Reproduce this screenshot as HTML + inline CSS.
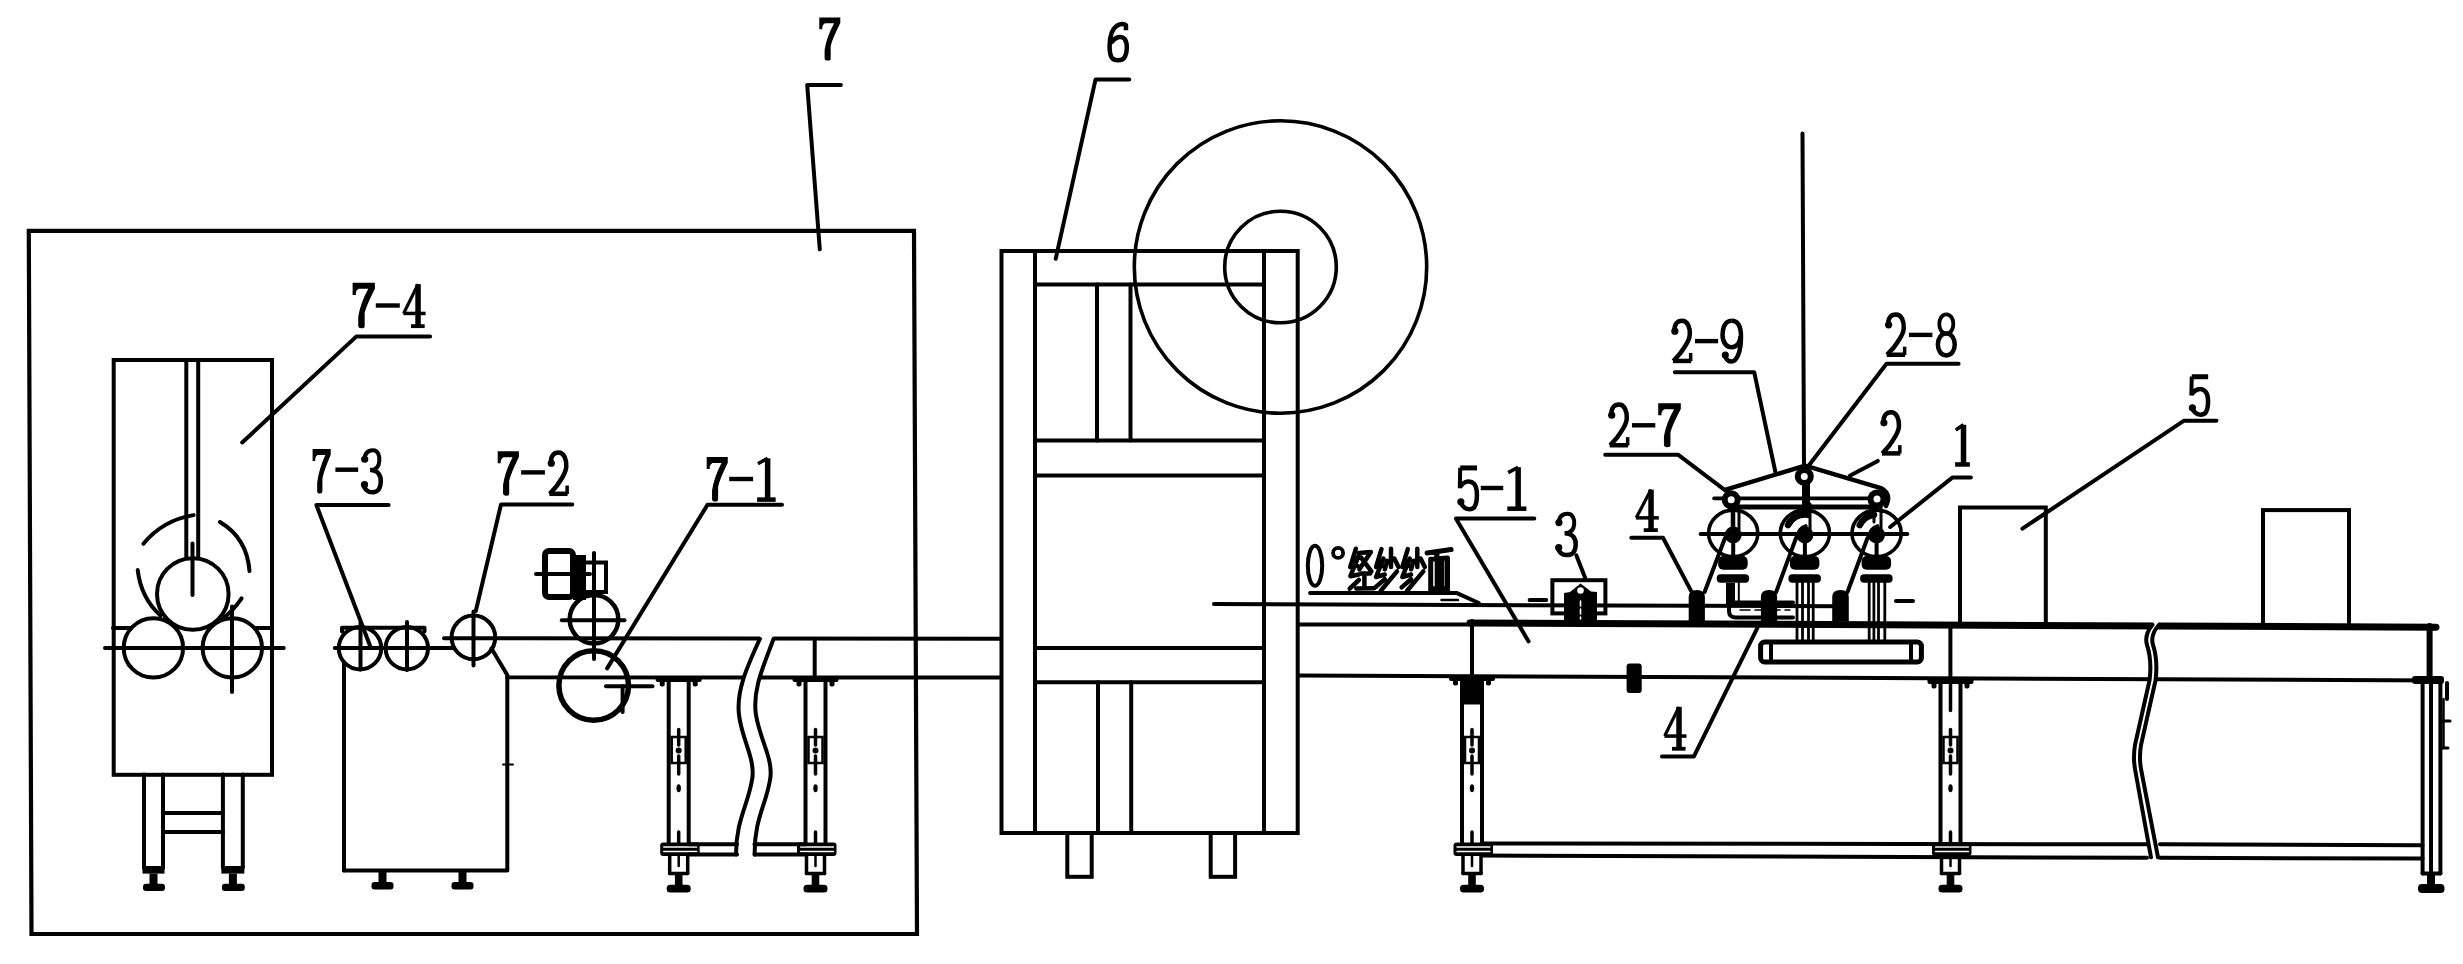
<!DOCTYPE html>
<html><head><meta charset="utf-8"><style>
html,body{margin:0;padding:0;background:#fff;overflow:hidden}
svg{display:block}
text{font-family:"Liberation Serif",serif}
</style></head><body>
<svg width="2463" height="964" viewBox="0 0 2463 964" stroke="#000" fill="none" stroke-linecap="round" stroke-linejoin="round">
<rect x="0" y="0" width="2463" height="964" fill="#fff" stroke="none"/>
<polygon points="28.8,230.9 914,230.9 917,934 31.5,934" stroke-width="4.2" fill="none" stroke-linejoin="miter"/>
<path transform="translate(819.30,17.50) scale(21.000,43.100)" d="M0,0 L1,0 L1,0.13 Q0.62,0.5 0.542,0.66 L0.542,0.955 Q0.542,1.0 0.4,1.0 Q0.253,1.0 0.253,0.945 L0.253,0.75 Q0.35,0.45 0.704,0.133 L0.27,0.133 Q0.17,0.16 0.144,0.22 L0.144,0.27 L0.0,0.27 Z" fill="#000" stroke="none"/>
<polyline points="840.9,84.9 807.2,84.9 819.8,249.3" stroke-width="4" fill="none"/>
<rect x="113.7" y="360.0" width="158.3" height="414.8" rx="0" stroke-width="4" fill="none" stroke-linejoin="miter"/>
<line x1="186.3" y1="360.0" x2="186.3" y2="557.0" stroke-width="4"/>
<line x1="198.2" y1="360.0" x2="198.2" y2="557.0" stroke-width="4"/>
<circle cx="192.8" cy="594.0" r="35.8" stroke-width="4" fill="none"/>
<line x1="192.5" y1="543.6" x2="192.5" y2="595.0" stroke-width="4"/>
<line x1="105.0" y1="648.0" x2="283.8" y2="648.0" stroke-width="4"/>
<line x1="113.0" y1="628.0" x2="131.0" y2="628.0" stroke-width="4"/>
<line x1="255.0" y1="628.0" x2="271.5" y2="628.0" stroke-width="4"/>
<circle cx="153.4" cy="647.9" r="29.7" stroke-width="4" fill="none"/>
<circle cx="232.3" cy="647.9" r="29.7" stroke-width="4" fill="none"/>
<line x1="232.0" y1="606.4" x2="232.0" y2="692.0" stroke-width="4"/>
<path d="M143.4,543.7 Q163,520 193.6,515.1" stroke-width="4" fill="none"/>
<path d="M219.9,522 Q247,538 249.5,571" stroke-width="4" fill="none"/>
<path d="M137.7,570 Q141,598 160.5,615.6" stroke-width="4" fill="none"/>
<path d="M241.6,598.4 Q233,611 223.3,617.9" stroke-width="4" fill="none"/>
<line x1="144.0" y1="774.5" x2="144.0" y2="868.0" stroke-width="4"/>
<line x1="163.0" y1="774.5" x2="163.0" y2="868.0" stroke-width="4"/>
<rect x="142.5" y="866.0" width="22.0" height="7.6" rx="0" stroke="none" fill="#000"/>
<rect x="149.5" y="873.6" width="8.0" height="10.4" rx="0" stroke="none" fill="#000"/>
<rect x="143.0" y="883.7" width="22.0" height="7.3" rx="3" stroke="none" fill="#000"/>
<line x1="222.9" y1="774.5" x2="222.9" y2="868.0" stroke-width="4"/>
<line x1="242.8" y1="774.5" x2="242.8" y2="868.0" stroke-width="4"/>
<rect x="221.4" y="866.0" width="22.9" height="7.6" rx="0" stroke="none" fill="#000"/>
<rect x="228.9" y="873.6" width="8.0" height="10.4" rx="0" stroke="none" fill="#000"/>
<rect x="221.9" y="883.7" width="22.9" height="7.3" rx="3" stroke="none" fill="#000"/>
<line x1="163.0" y1="813.0" x2="222.9" y2="813.0" stroke-width="4"/>
<line x1="163.0" y1="832.0" x2="222.9" y2="832.0" stroke-width="4"/>
<path transform="translate(352.60,282.80) scale(22.270,45.400)" d="M0,0 L1,0 L1,0.13 Q0.62,0.5 0.542,0.66 L0.542,0.955 Q0.542,1.0 0.4,1.0 Q0.253,1.0 0.253,0.945 L0.253,0.75 Q0.35,0.45 0.704,0.133 L0.27,0.133 Q0.17,0.16 0.144,0.22 L0.144,0.27 L0.0,0.27 Z" fill="#000" stroke="none"/>
<g transform="translate(402.43,282.80) scale(23.667,45.400)"><path d="M0.66,0.03 L0.66,0.95" stroke-width="5.5" vector-effect="non-scaling-stroke" stroke-linecap="butt"/><path d="M0.66,0.03 L0.05,0.675" stroke-width="3.2" vector-effect="non-scaling-stroke" stroke-linecap="butt"/><path d="M0.04,0.675 L0.98,0.675" stroke-width="3.5" vector-effect="non-scaling-stroke" stroke-linecap="butt"/><path d="M0.36,0.955 L0.94,0.955" stroke-width="3.8" vector-effect="non-scaling-stroke" stroke-linecap="butt"/></g>
<rect x="375.8" y="303.3" width="24.0" height="4.4" rx="0" stroke="none" fill="#000"/>
<polyline points="430.1,336.6 356.2,336.6 242.2,442.5" stroke-width="4" fill="none"/>
<circle cx="360.0" cy="648.2" r="21.2" stroke-width="4" fill="none"/>
<circle cx="406.8" cy="648.2" r="21.2" stroke-width="4" fill="none"/>
<line x1="360.5" y1="622.4" x2="360.5" y2="669.6" stroke-width="4"/>
<line x1="407.0" y1="622.0" x2="407.0" y2="670.0" stroke-width="4"/>
<line x1="334.8" y1="648.0" x2="453.5" y2="648.0" stroke-width="4"/>
<polyline points="342.0,631.5 342.0,627.8 424.5,627.8 424.5,631.5" stroke-width="4" fill="none"/>
<line x1="344.0" y1="662.8" x2="344.0" y2="870.5" stroke-width="4"/>
<polyline points="344.0,870.5 507.3,870.5 507.3,677.0" stroke-width="4" fill="none"/>
<circle cx="473.4" cy="637.4" r="21.8" stroke-width="4" fill="none"/>
<line x1="444.0" y1="638.2" x2="1001.0" y2="638.7" stroke-width="4"/>
<line x1="473.5" y1="611.6" x2="473.5" y2="665.5" stroke-width="4"/>
<polyline points="491.5,648.5 507.3,675.0 507.3,677.3 1001.0,677.6" stroke-width="4" fill="none"/>
<line x1="503.0" y1="764.5" x2="513.0" y2="764.5" stroke-width="2"/>
<rect x="378.5" y="870.0" width="8.0" height="13.0" rx="0" stroke="none" fill="#000"/>
<rect x="371.5" y="882.0" width="22.0" height="7.5" rx="3" stroke="none" fill="#000"/>
<rect x="458.5" y="870.0" width="8.0" height="13.0" rx="0" stroke="none" fill="#000"/>
<rect x="451.5" y="882.0" width="22.0" height="7.5" rx="3" stroke="none" fill="#000"/>
<path transform="translate(312.60,449.00) scale(18.096,44.600)" d="M0,0 L1,0 L1,0.13 Q0.62,0.5 0.542,0.66 L0.542,0.955 Q0.542,1.0 0.4,1.0 Q0.253,1.0 0.253,0.945 L0.253,0.75 Q0.35,0.45 0.704,0.133 L0.27,0.133 Q0.17,0.16 0.144,0.22 L0.144,0.27 L0.0,0.27 Z" fill="#000" stroke="none"/>
<g transform="translate(361.60,449.00) scale(20.602,44.600)"><path d="M0.14,0.25 C0.15,0.05 0.4,0.03 0.55,0.03 C0.8,0.03 0.88,0.15 0.86,0.27 C0.84,0.4 0.7,0.47 0.42,0.47" stroke-width="4" vector-effect="non-scaling-stroke" stroke-linecap="butt"/><path d="M0.42,0.47 C0.8,0.47 0.95,0.6 0.93,0.74 C0.9,0.95 0.7,0.97 0.5,0.97 C0.3,0.97 0.12,0.9 0.12,0.8" stroke-width="4.5" vector-effect="non-scaling-stroke" stroke-linecap="butt"/><ellipse cx="0.15" cy="0.23" rx="0.1747" ry="0.0807" fill="#000" stroke="none"/><ellipse cx="0.14" cy="0.8" rx="0.1747" ry="0.0807" fill="#000" stroke="none"/></g>
<rect x="335.4" y="467.5" width="22.8" height="4.4" rx="0" stroke="none" fill="#000"/>
<polyline points="388.6,505.0 316.4,505.0 370.8,647.8" stroke-width="4" fill="none"/>
<path transform="translate(497.70,451.20) scale(21.194,44.600)" d="M0,0 L1,0 L1,0.13 Q0.62,0.5 0.542,0.66 L0.542,0.955 Q0.542,1.0 0.4,1.0 Q0.253,1.0 0.253,0.945 L0.253,0.75 Q0.35,0.45 0.704,0.133 L0.27,0.133 Q0.17,0.16 0.144,0.22 L0.144,0.27 L0.0,0.27 Z" fill="#000" stroke="none"/>
<g transform="translate(547.61,451.20) scale(21.695,44.600)"><path d="M0.16,0.28 C0.12,0.1 0.3,0.03 0.5,0.03 C0.75,0.03 0.88,0.18 0.86,0.35 C0.84,0.52 0.62,0.62 0.42,0.78 L0.1,0.955" stroke-width="4.5" vector-effect="non-scaling-stroke" stroke-linecap="butt"/><path d="M0.08,0.955 L0.92,0.955" stroke-width="4.5" vector-effect="non-scaling-stroke" stroke-linecap="butt"/><path d="M0.9,0.96 L0.9,0.77" stroke-width="3.5" vector-effect="non-scaling-stroke" stroke-linecap="butt"/><ellipse cx="0.17" cy="0.27" rx="0.1659" ry="0.0807" fill="#000" stroke="none"/></g>
<rect x="521.1" y="470.2" width="23.8" height="4.4" rx="0" stroke="none" fill="#000"/>
<polyline points="572.3,504.5 501.0,504.5 475.8,611.0" stroke-width="4" fill="none"/>
<circle cx="594.0" cy="619.3" r="24.3" stroke-width="4.5" fill="none"/>
<line x1="561.8" y1="620.2" x2="624.5" y2="620.2" stroke-width="4"/>
<line x1="594.0" y1="553.0" x2="594.0" y2="658.9" stroke-width="4"/>
<circle cx="593.7" cy="685.5" r="34.8" stroke-width="5.5" fill="none"/>
<line x1="606.0" y1="686.3" x2="652.5" y2="686.3" stroke-width="4"/>
<line x1="622.6" y1="686.3" x2="622.6" y2="712.0" stroke-width="4"/>
<rect x="545.0" y="551.0" width="28.0" height="46.0" rx="4" stroke-width="6" fill="none" stroke-linejoin="round"/>
<line x1="536.0" y1="574.0" x2="590.0" y2="574.0" stroke-width="4"/>
<rect x="583.0" y="562.5" width="23.0" height="29.5" rx="0" stroke-width="4" fill="none" stroke-linejoin="miter"/>
<rect x="573.0" y="555.0" width="13.0" height="45.0" rx="0" stroke="none" fill="#000"/>
<path transform="translate(706.70,457.00) scale(21.060,44.600)" d="M0,0 L1,0 L1,0.13 Q0.62,0.5 0.542,0.66 L0.542,0.955 Q0.542,1.0 0.4,1.0 Q0.253,1.0 0.253,0.945 L0.253,0.75 Q0.35,0.45 0.704,0.133 L0.27,0.133 Q0.17,0.16 0.144,0.22 L0.144,0.27 L0.0,0.27 Z" fill="#000" stroke="none"/>
<g transform="translate(755.84,457.00) scale(21.060,44.600)"><path d="M0.1,0.15 L0.56,0.03" stroke-width="3.5" vector-effect="non-scaling-stroke" stroke-linecap="butt"/><path d="M0.56,0.03 L0.56,0.95" stroke-width="5.5" vector-effect="non-scaling-stroke" stroke-linecap="butt"/><path d="M0.06,0.955 L0.94,0.955" stroke-width="4.5" vector-effect="non-scaling-stroke" stroke-linecap="butt"/></g>
<rect x="729.2" y="476.8" width="23.9" height="4.4" rx="0" stroke="none" fill="#000"/>
<polyline points="782.0,504.8 707.5,504.8 607.1,668.4" stroke-width="4" fill="none"/>
<line x1="668.7" y1="678.5" x2="668.7" y2="842.0" stroke-width="4"/>
<line x1="688.7" y1="678.5" x2="688.7" y2="842.0" stroke-width="4"/>
<rect x="655.7" y="676.0" width="46.0" height="6.0" rx="2" stroke="none" fill="#000"/>
<rect x="659.7" y="678.5" width="5.0" height="8.0" rx="2" stroke="none" fill="#000"/>
<rect x="692.7" y="678.5" width="5.0" height="8.0" rx="2" stroke="none" fill="#000"/>
<rect x="671.7" y="737.0" width="14.0" height="26.0" rx="0" stroke-width="2.5" fill="none" stroke-linejoin="miter"/>
<line x1="678.7" y1="729.5" x2="678.7" y2="745.0" stroke-width="3.5"/>
<line x1="678.7" y1="756.0" x2="678.7" y2="774.0" stroke-width="3.5"/>
<circle cx="678.7" cy="750.4" r="3.0" stroke-width="0" fill="#000"/>
<ellipse cx="678.7" cy="788.3" rx="2.2" ry="4.0" stroke-width="0" fill="#000"/>
<line x1="678.7" y1="832.0" x2="678.7" y2="843.0" stroke-width="3.5"/>
<rect x="660.2" y="842.5" width="39.5" height="13.5" rx="3" stroke="none" fill="#000"/>
<line x1="663.7" y1="847" x2="696.7" y2="847" stroke="#fff" stroke-width="1.3"/>
<line x1="663.7" y1="851.5" x2="696.7" y2="851.5" stroke="#fff" stroke-width="1.3"/>
<line x1="669.7" y1="856.0" x2="669.7" y2="873.5" stroke-width="3.5"/>
<line x1="687.7" y1="856.0" x2="687.7" y2="873.5" stroke-width="3.5"/>
<line x1="669.7" y1="873.5" x2="687.7" y2="873.5" stroke-width="3.5"/>
<line x1="678.7" y1="856.0" x2="678.7" y2="866.0" stroke-width="2.5"/>
<rect x="674.9" y="873.5" width="7.6" height="12.5" rx="0" stroke="none" fill="#000"/>
<rect x="666.7" y="884.8" width="24.0" height="7.7" rx="3.5" stroke="none" fill="#000"/>
<line x1="805.5" y1="678.5" x2="805.5" y2="842.0" stroke-width="4"/>
<line x1="825.5" y1="678.5" x2="825.5" y2="842.0" stroke-width="4"/>
<rect x="792.5" y="676.0" width="46.0" height="6.0" rx="2" stroke="none" fill="#000"/>
<rect x="796.5" y="678.5" width="5.0" height="8.0" rx="2" stroke="none" fill="#000"/>
<rect x="829.5" y="678.5" width="5.0" height="8.0" rx="2" stroke="none" fill="#000"/>
<rect x="808.5" y="737.0" width="14.0" height="26.0" rx="0" stroke-width="2.5" fill="none" stroke-linejoin="miter"/>
<line x1="815.5" y1="729.5" x2="815.5" y2="745.0" stroke-width="3.5"/>
<line x1="815.5" y1="756.0" x2="815.5" y2="774.0" stroke-width="3.5"/>
<circle cx="815.5" cy="750.4" r="3.0" stroke-width="0" fill="#000"/>
<ellipse cx="815.5" cy="788.3" rx="2.2" ry="4.0" stroke-width="0" fill="#000"/>
<line x1="815.5" y1="832.0" x2="815.5" y2="843.0" stroke-width="3.5"/>
<rect x="797.0" y="842.5" width="39.5" height="13.5" rx="3" stroke="none" fill="#000"/>
<line x1="800.5" y1="847" x2="833.5" y2="847" stroke="#fff" stroke-width="1.3"/>
<line x1="800.5" y1="851.5" x2="833.5" y2="851.5" stroke="#fff" stroke-width="1.3"/>
<line x1="806.5" y1="856.0" x2="806.5" y2="873.5" stroke-width="3.5"/>
<line x1="824.5" y1="856.0" x2="824.5" y2="873.5" stroke-width="3.5"/>
<line x1="806.5" y1="873.5" x2="824.5" y2="873.5" stroke-width="3.5"/>
<line x1="815.5" y1="856.0" x2="815.5" y2="866.0" stroke-width="2.5"/>
<rect x="811.7" y="873.5" width="7.6" height="12.5" rx="0" stroke="none" fill="#000"/>
<rect x="803.5" y="884.8" width="24.0" height="7.7" rx="3.5" stroke="none" fill="#000"/>
<line x1="814.7" y1="638.8" x2="814.7" y2="677.5" stroke-width="4"/>
<path d="M759.9,634 L759.9,638.8 C748,665 736,690 739,715 C742,740 756,760 752,780 C748,805 736,820 736,854.6 L736,859 L754.7,859 L754.7,854.6 C754,820 766,805 770,780 C774,760 760,740 756,715 C752,690 764,665 773.6,638.8 L773.6,634 Z" stroke-width="0" fill="#fff"/>
<path d="M759.9,638.8 C748,665 736,690 739,715 C742,740 756,760 752,780 C748,805 736,820 736,854.6" stroke-width="4" fill="none"/>
<path d="M773.6,638.8 C764,665 752,690 756,715 C760,740 774,760 770,780 C766,805 754,820 754.7,854.6" stroke-width="4" fill="none"/>
<line x1="688.7" y1="844.3" x2="737.0" y2="844.3" stroke-width="4"/>
<line x1="688.7" y1="854.6" x2="737.0" y2="854.6" stroke-width="4"/>
<line x1="754.5" y1="844.3" x2="806.0" y2="844.3" stroke-width="4"/>
<line x1="754.5" y1="854.6" x2="806.0" y2="854.6" stroke-width="4"/>
<rect x="1001.5" y="251.0" width="296.2" height="582.0" rx="0" stroke-width="4" fill="none" stroke-linejoin="miter"/>
<line x1="1035.0" y1="251.0" x2="1035.0" y2="833.0" stroke-width="4"/>
<line x1="1264.0" y1="251.0" x2="1264.0" y2="833.0" stroke-width="4"/>
<line x1="1035.0" y1="284.5" x2="1264.0" y2="284.5" stroke-width="4"/>
<line x1="1035.0" y1="440.6" x2="1264.0" y2="440.6" stroke-width="4"/>
<line x1="1035.0" y1="475.4" x2="1264.0" y2="475.4" stroke-width="4"/>
<line x1="1035.0" y1="648.0" x2="1264.0" y2="648.0" stroke-width="4"/>
<line x1="1035.0" y1="682.2" x2="1264.0" y2="682.2" stroke-width="4"/>
<line x1="1097.0" y1="284.5" x2="1097.0" y2="440.6" stroke-width="4"/>
<line x1="1130.5" y1="284.5" x2="1130.5" y2="440.6" stroke-width="4"/>
<line x1="1098.0" y1="682.2" x2="1098.0" y2="833.0" stroke-width="4"/>
<line x1="1131.2" y1="682.2" x2="1131.2" y2="833.0" stroke-width="4"/>
<rect x="1067.3" y="833.0" width="24.4" height="43.8" rx="0" stroke-width="4" fill="none" stroke-linejoin="miter"/>
<rect x="1210.7" y="833.0" width="24.4" height="43.8" rx="0" stroke-width="4" fill="none" stroke-linejoin="miter"/>
<circle cx="1280.5" cy="267.0" r="146.2" stroke-width="3.6" fill="none"/>
<circle cx="1280.5" cy="267.0" r="55.8" stroke-width="3.6" fill="none"/>
<g transform="translate(1106.90,22.40) scale(22.400,39.800)"><path d="M0.85,0.2 L0.85,0.07 C0.7,0.02 0.4,0.02 0.22,0.25 C0.08,0.45 0.1,0.75 0.2,0.87 C0.3,0.98 0.7,0.98 0.8,0.87 C0.92,0.75 0.92,0.52 0.8,0.42 C0.65,0.32 0.35,0.36 0.18,0.52" stroke-width="4.5" vector-effect="non-scaling-stroke" stroke-linecap="butt"/></g>
<polyline points="1129.3,79.6 1095.5,79.6 1055.7,258.8" stroke-width="4" fill="none"/>
<line x1="1214.0" y1="604.1" x2="1840.0" y2="606.2" stroke-width="4"/>
<line x1="1298.0" y1="624.5" x2="1470.5" y2="624.5" stroke-width="4"/>
<line x1="1298.0" y1="675.6" x2="2441.0" y2="680.4" stroke-width="4"/>
<ellipse cx="1315" cy="565.8" rx="7.2" ry="20" stroke-width="4" fill="none"/>
<circle cx="1338.1" cy="552.9" r="5.0" stroke-width="3.8" fill="none"/>
<path d="M1355.9,548.7 L1350.2,567.1 L1357.7,565.9 M1358.4,556.4 L1350.4,576.2 L1358.9,574.5 M1349.7,588.6 L1358.9,580.0 M1358.9,553.0 L1370.9,552.1 L1359.4,569.3 M1360.9,557.3 L1371.4,571.4 M1361.4,573.6 L1370.2,573.6 M1364.4,573.6 L1364.4,588.6 M1356.4,588.6 L1373.9,588.2 " stroke-width="4.5" fill="none"/>
<path d="M1381.5,549.1 L1376.0,567.1 L1382.3,565.9 M1383.5,558.5 L1376.0,577.0 L1384.8,574.5 M1375.3,587.4 L1384.8,579.2 M1391.0,548.7 L1391.0,567.1 M1387.3,560.7 L1384.8,569.3 M1394.3,558.5 L1398.5,567.1 M1397.0,571.4 L1380.8,590.8 " stroke-width="4.5" fill="none"/>
<path d="M1407.8,549.1 L1402.3,567.1 L1408.6,565.9 M1409.8,558.5 L1402.3,577.0 L1411.1,574.5 M1401.6,587.4 L1411.1,579.2 M1417.3,548.7 L1417.3,567.1 M1413.6,560.7 L1411.1,569.3 M1420.6,558.5 L1424.8,567.1 M1423.3,571.4 L1407.1,590.8 " stroke-width="4.5" fill="none"/>
<path d="M1427.1,553.0 L1451.1,549.6 M1437.2,553.0 L1436.2,559.3 M1430.7,559.3 L1430.7,590.8 M1430.7,559.3 L1447.5,558.0 L1447.5,590.8 M1437.2,559.3 L1437.2,588.7 M1442.0,559.3 L1442.0,588.7 M1437.2,569.8 L1442.0,569.8 M1437.2,579.0 L1442.0,579.0 M1430.7,588.7 L1447.5,588.7 " stroke-width="5" fill="none"/>
<polyline points="1310.1,592.9 1456.4,592.9 1478.8,603.0" stroke-width="4" fill="none"/>
<line x1="1441.5" y1="600.0" x2="1458.0" y2="600.0" stroke-width="2.5"/>
<line x1="1470.0" y1="623.0" x2="2436.0" y2="627.2" stroke-width="7"/>
<line x1="1472.0" y1="621.0" x2="1472.0" y2="677.0" stroke-width="4"/>
<line x1="1950.4" y1="625.0" x2="1950.4" y2="680.0" stroke-width="4"/>
<line x1="2429.6" y1="626.0" x2="2429.6" y2="680.3" stroke-width="6"/>
<rect x="1626.6" y="663.5" width="15.1" height="29.5" rx="3" stroke-width="0" fill="#000" stroke-linejoin="round"/>
<g transform="translate(1457.70,465.90) scale(21.000,44.800)"><path d="M0.12,0.045 L0.92,0.045" stroke-width="5" vector-effect="non-scaling-stroke" stroke-linecap="butt"/><path d="M0.12,0.04 L0.1,0.5" stroke-width="4" vector-effect="non-scaling-stroke" stroke-linecap="butt"/><path d="M0.1,0.48 C0.3,0.33 0.6,0.31 0.78,0.4 C0.97,0.5 0.95,0.82 0.78,0.93 C0.6,1.0 0.3,0.98 0.14,0.82" stroke-width="4.5" vector-effect="non-scaling-stroke" stroke-linecap="butt"/><ellipse cx="0.15" cy="0.8" rx="0.1714" ry="0.0804" fill="#000" stroke="none"/></g>
<g transform="translate(1506.00,465.90) scale(21.700,44.800)"><path d="M0.1,0.15 L0.56,0.03" stroke-width="3.5" vector-effect="non-scaling-stroke" stroke-linecap="butt"/><path d="M0.56,0.03 L0.56,0.95" stroke-width="5.5" vector-effect="non-scaling-stroke" stroke-linecap="butt"/><path d="M0.06,0.955 L0.94,0.955" stroke-width="4.5" vector-effect="non-scaling-stroke" stroke-linecap="butt"/></g>
<rect x="1480.8" y="485.8" width="22.4" height="4.4" rx="0" stroke="none" fill="#000"/>
<polyline points="1534.3,518.5 1455.9,518.5 1528.6,641.4" stroke-width="4" fill="none"/>
<rect x="1552.4" y="580.2" width="53.0" height="33.2" rx="0" stroke-width="4" fill="none" stroke-linejoin="miter"/>
<path d="M1564,621 L1564,593 L1570,592 L1580.5,583.4 L1591,591.5 L1597,592 L1597,621 Z" stroke-width="0" fill="#000"/>
<circle cx="1580.5" cy="590.5" r="3.3" stroke-width="0" fill="#fff"/>
<line x1="1580.5" y1="601" x2="1580.5" y2="619" stroke="#fff" stroke-width="1.6" stroke-dasharray="5,3"/>
<line x1="1556" y1="609.3" x2="1563" y2="609.3" stroke="#fff" stroke-width="2"/>
<line x1="1598" y1="609.3" x2="1602" y2="609.3" stroke="#fff" stroke-width="2"/>
<line x1="1529.6" y1="600.0" x2="1546.2" y2="600.0" stroke-width="4"/>
<g transform="translate(1555.70,512.50) scale(21.500,43.900)"><path d="M0.14,0.25 C0.15,0.05 0.4,0.03 0.55,0.03 C0.8,0.03 0.88,0.15 0.86,0.27 C0.84,0.4 0.7,0.47 0.42,0.47" stroke-width="4" vector-effect="non-scaling-stroke" stroke-linecap="butt"/><path d="M0.42,0.47 C0.8,0.47 0.95,0.6 0.93,0.74 C0.9,0.95 0.7,0.97 0.5,0.97 C0.3,0.97 0.12,0.9 0.12,0.8" stroke-width="4.5" vector-effect="non-scaling-stroke" stroke-linecap="butt"/><ellipse cx="0.15" cy="0.23" rx="0.1674" ry="0.0820" fill="#000" stroke="none"/><ellipse cx="0.14" cy="0.8" rx="0.1674" ry="0.0820" fill="#000" stroke="none"/></g>
<line x1="1576.3" y1="555.3" x2="1585.6" y2="579.1" stroke-width="4"/>
<rect x="1960.0" y="507.5" width="85.8" height="116.5" rx="0" stroke-width="4" fill="none" stroke-linejoin="miter"/>
<rect x="2263.0" y="510.1" width="86.0" height="115.9" rx="0" stroke-width="4" fill="none" stroke-linejoin="miter"/>
<g transform="translate(2189.30,374.90) scale(20.500,41.100)"><path d="M0.12,0.045 L0.92,0.045" stroke-width="5" vector-effect="non-scaling-stroke" stroke-linecap="butt"/><path d="M0.12,0.04 L0.1,0.5" stroke-width="4" vector-effect="non-scaling-stroke" stroke-linecap="butt"/><path d="M0.1,0.48 C0.3,0.33 0.6,0.31 0.78,0.4 C0.97,0.5 0.95,0.82 0.78,0.93 C0.6,1.0 0.3,0.98 0.14,0.82" stroke-width="4.5" vector-effect="non-scaling-stroke" stroke-linecap="butt"/><ellipse cx="0.15" cy="0.8" rx="0.1756" ry="0.0876" fill="#000" stroke="none"/></g>
<polyline points="2216.5,420.8 2183.7,420.8 2022.4,528.7" stroke-width="4" fill="none"/>
<line x1="1462.0" y1="677.5" x2="1462.0" y2="842.0" stroke-width="4"/>
<line x1="1482.0" y1="677.5" x2="1482.0" y2="842.0" stroke-width="4"/>
<rect x="1449.0" y="675.0" width="46.0" height="6.0" rx="2" stroke="none" fill="#000"/>
<rect x="1453.0" y="677.5" width="5.0" height="8.0" rx="2" stroke="none" fill="#000"/>
<rect x="1486.0" y="677.5" width="5.0" height="8.0" rx="2" stroke="none" fill="#000"/>
<rect x="1462.0" y="677.5" width="20.0" height="27.0" rx="2" stroke="none" fill="#000"/>
<rect x="1465.0" y="737.0" width="14.0" height="26.0" rx="0" stroke-width="2.5" fill="none" stroke-linejoin="miter"/>
<line x1="1472.0" y1="729.5" x2="1472.0" y2="745.0" stroke-width="3.5"/>
<line x1="1472.0" y1="756.0" x2="1472.0" y2="774.0" stroke-width="3.5"/>
<circle cx="1472.0" cy="750.4" r="3.0" stroke-width="0" fill="#000"/>
<ellipse cx="1472.0" cy="788.3" rx="2.2" ry="4.0" stroke-width="0" fill="#000"/>
<line x1="1472.0" y1="832.0" x2="1472.0" y2="843.0" stroke-width="3.5"/>
<rect x="1453.5" y="842.5" width="39.5" height="13.5" rx="3" stroke="none" fill="#000"/>
<line x1="1457.0" y1="847" x2="1490.0" y2="847" stroke="#fff" stroke-width="1.3"/>
<line x1="1457.0" y1="851.5" x2="1490.0" y2="851.5" stroke="#fff" stroke-width="1.3"/>
<line x1="1463.0" y1="856.0" x2="1463.0" y2="873.5" stroke-width="3.5"/>
<line x1="1481.0" y1="856.0" x2="1481.0" y2="873.5" stroke-width="3.5"/>
<line x1="1463.0" y1="873.5" x2="1481.0" y2="873.5" stroke-width="3.5"/>
<line x1="1472.0" y1="856.0" x2="1472.0" y2="866.0" stroke-width="2.5"/>
<rect x="1468.2" y="873.5" width="7.6" height="12.5" rx="0" stroke="none" fill="#000"/>
<rect x="1460.0" y="884.8" width="24.0" height="7.7" rx="3.5" stroke="none" fill="#000"/>
<line x1="1940.5" y1="680.5" x2="1940.5" y2="842.0" stroke-width="4"/>
<line x1="1960.5" y1="680.5" x2="1960.5" y2="842.0" stroke-width="4"/>
<rect x="1927.5" y="678.0" width="46.0" height="6.0" rx="2" stroke="none" fill="#000"/>
<rect x="1931.5" y="680.5" width="5.0" height="8.0" rx="2" stroke="none" fill="#000"/>
<rect x="1964.5" y="680.5" width="5.0" height="8.0" rx="2" stroke="none" fill="#000"/>
<line x1="1950.5" y1="680.5" x2="1950.5" y2="710.5" stroke-width="3.5"/>
<rect x="1943.5" y="737.0" width="14.0" height="26.0" rx="0" stroke-width="2.5" fill="none" stroke-linejoin="miter"/>
<line x1="1950.5" y1="729.5" x2="1950.5" y2="745.0" stroke-width="3.5"/>
<line x1="1950.5" y1="756.0" x2="1950.5" y2="774.0" stroke-width="3.5"/>
<circle cx="1950.5" cy="750.4" r="3.0" stroke-width="0" fill="#000"/>
<ellipse cx="1950.5" cy="788.3" rx="2.2" ry="4.0" stroke-width="0" fill="#000"/>
<line x1="1950.5" y1="832.0" x2="1950.5" y2="843.0" stroke-width="3.5"/>
<rect x="1932.0" y="842.5" width="39.5" height="13.5" rx="3" stroke="none" fill="#000"/>
<line x1="1935.5" y1="847" x2="1968.5" y2="847" stroke="#fff" stroke-width="1.3"/>
<line x1="1935.5" y1="851.5" x2="1968.5" y2="851.5" stroke="#fff" stroke-width="1.3"/>
<line x1="1941.5" y1="856.0" x2="1941.5" y2="873.5" stroke-width="3.5"/>
<line x1="1959.5" y1="856.0" x2="1959.5" y2="873.5" stroke-width="3.5"/>
<line x1="1941.5" y1="873.5" x2="1959.5" y2="873.5" stroke-width="3.5"/>
<line x1="1950.5" y1="856.0" x2="1950.5" y2="866.0" stroke-width="2.5"/>
<rect x="1946.7" y="873.5" width="7.6" height="12.5" rx="0" stroke="none" fill="#000"/>
<rect x="1938.5" y="884.8" width="24.0" height="7.7" rx="3.5" stroke="none" fill="#000"/>
<line x1="2422.6" y1="680.4" x2="2422.6" y2="873.6" stroke-width="4"/>
<line x1="2431.0" y1="680.4" x2="2431.0" y2="873.6" stroke-width="4"/>
<line x1="2440.4" y1="680.4" x2="2440.4" y2="873.6" stroke-width="4"/>
<line x1="2422.6" y1="873.6" x2="2440.4" y2="873.6" stroke-width="4"/>
<rect x="2427.0" y="873.0" width="8.0" height="12.0" rx="0" stroke="none" fill="#000"/>
<rect x="2418.0" y="884.0" width="26.5" height="9.0" rx="4" stroke="none" fill="#000"/>
<rect x="2412.0" y="676.0" width="32.0" height="8.0" rx="3" stroke="none" fill="#000"/>
<line x1="2447.0" y1="683.0" x2="2447.0" y2="699.0" stroke-width="4"/>
<line x1="2441.0" y1="721.0" x2="2450.0" y2="721.0" stroke-width="3"/>
<line x1="2441.0" y1="748.0" x2="2448.0" y2="748.0" stroke-width="3"/>
<line x1="2443.5" y1="699.0" x2="2443.5" y2="748.0" stroke-width="2.5"/>
<line x1="1482.0" y1="843.5" x2="2147.0" y2="844.3" stroke-width="4"/>
<line x1="1482.0" y1="855.5" x2="2147.0" y2="857.8" stroke-width="4"/>
<line x1="2160.0" y1="844.3" x2="2422.6" y2="845.3" stroke-width="4"/>
<line x1="2160.0" y1="857.8" x2="2422.6" y2="858.5" stroke-width="4"/>
<path d="M2152.5,619 L2152.5,624.7 Q2144,635 2147,645 Q2152,660 2149.6,680 L2135,745 Q2133,757 2135,769 L2151,857.3 L2151,862 L2158,862 L2158,857.3 L2141,769 Q2139,757 2141,745 L2155.6,680 Q2158,660 2153,645 Q2150,635 2159,624.7 L2159,619 Z" stroke-width="0" fill="#fff"/>
<path d="M2152.5,624.7 Q2144,635 2147,645 Q2152,660 2149.6,680 L2135,745 Q2133,757 2135,769 L2151,857.3" stroke-width="4" fill="none"/>
<path d="M2159,624.7 Q2150,635 2153,645 Q2158,660 2155.6,680 L2141,745 Q2139,757 2141,769 L2158,857.3" stroke-width="4" fill="none"/>
<line x1="1802.5" y1="133.6" x2="1804.0" y2="466.0" stroke-width="4"/>
<path d="M1725.8,489.7 L1805.1,465.6 L1880.9,488.1 Q1892,494 1886,506" stroke-width="4.5" fill="none"/>
<line x1="1714.0" y1="498.4" x2="1877.0" y2="498.4" stroke-width="3.6"/>
<line x1="1731.0" y1="507.0" x2="1877.0" y2="507.0" stroke-width="5"/>
<line x1="1806.0" y1="476.0" x2="1806.0" y2="504.0" stroke-width="8"/>
<line x1="1810.0" y1="504.0" x2="1810.0" y2="530.0" stroke-width="3"/>
<circle cx="1804.3" cy="476.4" r="9.5" stroke-width="0" fill="#000"/>
<circle cx="1804.3" cy="476.4" r="3.5" stroke-width="0" fill="#fff"/>
<circle cx="1731.2" cy="499.8" r="9.5" stroke-width="0" fill="#000"/>
<circle cx="1731.2" cy="499.8" r="3.5" stroke-width="0" fill="#fff"/>
<circle cx="1877.0" cy="499.0" r="9.5" stroke-width="0" fill="#000"/>
<circle cx="1877.0" cy="499.0" r="3.5" stroke-width="0" fill="#fff"/>
<ellipse cx="1733.2" cy="533.3" rx="24.6" ry="23.2" stroke-width="3.6" fill="none"/>
<circle cx="1733.2" cy="535.0" r="8.5" stroke-width="0" fill="#000"/>
<rect x="1718.2" y="556.0" width="29.5" height="13.7" rx="5" stroke="none" fill="#000"/>
<rect x="1716.7" y="574.2" width="32.5" height="8.6" rx="4" stroke="none" fill="#000"/>
<line x1="1733.2" y1="540.0" x2="1733.2" y2="555.0" stroke-width="4"/>
<ellipse cx="1804.9" cy="533.3" rx="24.6" ry="23.2" stroke-width="3.6" fill="none"/>
<circle cx="1804.9" cy="535.0" r="8.5" stroke-width="0" fill="#000"/>
<rect x="1789.9" y="556.0" width="29.5" height="13.7" rx="5" stroke="none" fill="#000"/>
<rect x="1788.4" y="574.2" width="32.5" height="8.6" rx="4" stroke="none" fill="#000"/>
<line x1="1804.9" y1="540.0" x2="1804.9" y2="555.0" stroke-width="4"/>
<ellipse cx="1876.6" cy="533.3" rx="24.6" ry="23.2" stroke-width="3.6" fill="none"/>
<circle cx="1876.6" cy="535.0" r="8.5" stroke-width="0" fill="#000"/>
<rect x="1861.6" y="556.0" width="29.5" height="13.7" rx="5" stroke="none" fill="#000"/>
<rect x="1860.1" y="574.2" width="32.5" height="8.6" rx="4" stroke="none" fill="#000"/>
<line x1="1876.6" y1="540.0" x2="1876.6" y2="555.0" stroke-width="4"/>
<line x1="1700.6" y1="534.0" x2="1907.3" y2="534.0" stroke-width="4"/>
<line x1="1733.0" y1="506.0" x2="1733.0" y2="530.0" stroke-width="4.5"/>
<line x1="1739.0" y1="506.0" x2="1739.0" y2="530.0" stroke-width="3"/>
<path d="M1788.0,525.1 A18.8,18.8 0 0 1 1807.5,514.7" stroke-width="6.5" fill="none"/>
<path d="M1797.9,538 Q1797.9,528 1805.9,526" stroke-width="3.5" fill="none"/>
<path d="M1859.7,525.1 A18.8,18.8 0 0 1 1874.0,514.7" stroke-width="6.5" fill="none"/>
<path d="M1869.6,538 Q1869.6,528 1877.6,526" stroke-width="3.5" fill="none"/>
<line x1="1881.0" y1="506.0" x2="1881.0" y2="530.0" stroke-width="3"/>
<line x1="1874.0" y1="506.0" x2="1874.0" y2="522.0" stroke-width="3"/>
<rect x="1726.0" y="583.0" width="9.0" height="23.0" rx="0" stroke="none" fill="#000"/>
<path d="M1729,600 L1729,611 Q1729,617.5 1736,617.5 L1793,617.5" stroke-width="4" fill="none"/>
<line x1="1738.8" y1="583.0" x2="1738.8" y2="603.0" stroke-width="2"/>
<line x1="1735.0" y1="602.5" x2="1793.0" y2="602.5" stroke-width="4"/>
<line x1="1740" y1="610" x2="1790" y2="610" stroke="#000" stroke-width="1.5" stroke-dasharray="10,5"/>
<line x1="1797.0" y1="583.0" x2="1797.0" y2="642.0" stroke-width="2.8"/>
<line x1="1802.5" y1="583.0" x2="1802.5" y2="642.0" stroke-width="2.8"/>
<line x1="1808.5" y1="583.0" x2="1808.5" y2="642.0" stroke-width="2.8"/>
<line x1="1813.2" y1="583.0" x2="1813.2" y2="642.0" stroke-width="2.8"/>
<line x1="1869.2" y1="583.0" x2="1869.2" y2="642.0" stroke-width="2.8"/>
<line x1="1873.9" y1="583.0" x2="1873.9" y2="642.0" stroke-width="2.8"/>
<line x1="1878.5" y1="583.0" x2="1878.5" y2="642.0" stroke-width="2.8"/>
<line x1="1884.8" y1="583.0" x2="1884.8" y2="642.0" stroke-width="2.8"/>
<path d="M1688.7,621 L1688.7,597 Q1688.7,590 1696.8000000000002,590 Q1704.9,590 1704.9,597 L1704.9,621 Z" stroke-width="0" fill="#000"/>
<path d="M1760.9,621 L1760.9,597 Q1760.9,590 1769.0,590 Q1777.1,590 1777.1,597 L1777.1,621 Z" stroke-width="0" fill="#000"/>
<path d="M1832.2,621 L1832.2,597 Q1832.2,590 1840.5,590 Q1848.8,590 1848.8,597 L1848.8,621 Z" stroke-width="0" fill="#000"/>
<line x1="1704.6" y1="592.0" x2="1725.0" y2="538.0" stroke-width="4"/>
<line x1="1776.0" y1="592.4" x2="1796.1" y2="537.8" stroke-width="4"/>
<line x1="1847.5" y1="592.0" x2="1867.5" y2="538.0" stroke-width="4"/>
<rect x="1760.6" y="642.0" width="160.8" height="20.0" rx="4" stroke-width="5" fill="none" stroke-linejoin="round"/>
<line x1="1771.0" y1="644.0" x2="1771.0" y2="660.0" stroke-width="4"/>
<line x1="1911.0" y1="644.0" x2="1911.0" y2="660.0" stroke-width="4"/>
<g transform="translate(1671.20,319.40) scale(21.630,43.500)"><path d="M0.16,0.28 C0.12,0.1 0.3,0.03 0.5,0.03 C0.75,0.03 0.88,0.18 0.86,0.35 C0.84,0.52 0.62,0.62 0.42,0.78 L0.1,0.955" stroke-width="4.5" vector-effect="non-scaling-stroke" stroke-linecap="butt"/><path d="M0.08,0.955 L0.92,0.955" stroke-width="4.5" vector-effect="non-scaling-stroke" stroke-linecap="butt"/><path d="M0.9,0.96 L0.9,0.77" stroke-width="3.5" vector-effect="non-scaling-stroke" stroke-linecap="butt"/><ellipse cx="0.17" cy="0.27" rx="0.1664" ry="0.0828" fill="#000" stroke="none"/></g>
<g transform="translate(1720.23,319.40) scale(23.072,43.500)"><path d="M0.5,0.03 C0.15,0.03 0.1,0.25 0.1,0.35 C0.1,0.55 0.3,0.64 0.5,0.64 C0.75,0.64 0.88,0.5 0.88,0.38" stroke-width="4.5" vector-effect="non-scaling-stroke" stroke-linecap="butt"/><path d="M0.5,0.03 C0.8,0.03 0.9,0.2 0.9,0.4 C0.9,0.75 0.72,0.97 0.48,0.97 C0.32,0.97 0.24,0.9 0.22,0.84" stroke-width="4.5" vector-effect="non-scaling-stroke" stroke-linecap="butt"/><ellipse cx="0.22" cy="0.82" rx="0.1560" ry="0.0828" fill="#000" stroke="none"/></g>
<rect x="1695.0" y="338.9" width="23.1" height="4.4" rx="0" stroke="none" fill="#000"/>
<polyline points="1674.9,372.2 1754.2,372.2 1775.4,472.0" stroke-width="4" fill="none"/>
<g transform="translate(1884.90,313.10) scale(21.930,43.600)"><path d="M0.16,0.28 C0.12,0.1 0.3,0.03 0.5,0.03 C0.75,0.03 0.88,0.18 0.86,0.35 C0.84,0.52 0.62,0.62 0.42,0.78 L0.1,0.955" stroke-width="4.5" vector-effect="non-scaling-stroke" stroke-linecap="butt"/><path d="M0.08,0.955 L0.92,0.955" stroke-width="4.5" vector-effect="non-scaling-stroke" stroke-linecap="butt"/><path d="M0.9,0.96 L0.9,0.77" stroke-width="3.5" vector-effect="non-scaling-stroke" stroke-linecap="butt"/><ellipse cx="0.17" cy="0.27" rx="0.1642" ry="0.0826" fill="#000" stroke="none"/></g>
<g transform="translate(1934.61,313.10) scale(23.392,43.600)"><path d="M0.5,0.03 C0.1,0.03 0.1,0.47 0.5,0.47 C0.9,0.47 0.9,0.03 0.5,0.03 Z" stroke-width="3.8" vector-effect="non-scaling-stroke" stroke-linecap="butt"/><path d="M0.5,0.47 C0.02,0.47 0.02,0.97 0.5,0.97 C0.98,0.97 0.98,0.47 0.5,0.47 Z" stroke-width="4.5" vector-effect="non-scaling-stroke" stroke-linecap="butt"/></g>
<rect x="1909.0" y="332.7" width="23.4" height="4.4" rx="0" stroke="none" fill="#000"/>
<polyline points="1958.6,363.8 1886.5,363.8 1808.6,465.8" stroke-width="4" fill="none"/>
<g transform="translate(1880.20,410.80) scale(21.800,44.600)"><path d="M0.16,0.28 C0.12,0.1 0.3,0.03 0.5,0.03 C0.75,0.03 0.88,0.18 0.86,0.35 C0.84,0.52 0.62,0.62 0.42,0.78 L0.1,0.955" stroke-width="4.5" vector-effect="non-scaling-stroke" stroke-linecap="butt"/><path d="M0.08,0.955 L0.92,0.955" stroke-width="4.5" vector-effect="non-scaling-stroke" stroke-linecap="butt"/><path d="M0.9,0.96 L0.9,0.77" stroke-width="3.5" vector-effect="non-scaling-stroke" stroke-linecap="butt"/><ellipse cx="0.17" cy="0.27" rx="0.1651" ry="0.0807" fill="#000" stroke="none"/></g>
<line x1="1877.8" y1="460.9" x2="1849.8" y2="475.7" stroke-width="4"/>
<g transform="translate(1954.10,423.50) scale(16.800,42.900)"><path d="M0.1,0.15 L0.56,0.03" stroke-width="3.5" vector-effect="non-scaling-stroke" stroke-linecap="butt"/><path d="M0.56,0.03 L0.56,0.95" stroke-width="5.5" vector-effect="non-scaling-stroke" stroke-linecap="butt"/><path d="M0.06,0.955 L0.94,0.955" stroke-width="4.5" vector-effect="non-scaling-stroke" stroke-linecap="butt"/></g>
<polyline points="1970.9,477.6 1952.3,477.6 1890.2,527.0" stroke-width="4" fill="none"/>
<g transform="translate(1608.00,403.30) scale(21.840,43.900)"><path d="M0.16,0.28 C0.12,0.1 0.3,0.03 0.5,0.03 C0.75,0.03 0.88,0.18 0.86,0.35 C0.84,0.52 0.62,0.62 0.42,0.78 L0.1,0.955" stroke-width="4.5" vector-effect="non-scaling-stroke" stroke-linecap="butt"/><path d="M0.08,0.955 L0.92,0.955" stroke-width="4.5" vector-effect="non-scaling-stroke" stroke-linecap="butt"/><path d="M0.9,0.96 L0.9,0.77" stroke-width="3.5" vector-effect="non-scaling-stroke" stroke-linecap="butt"/><ellipse cx="0.17" cy="0.27" rx="0.1648" ry="0.0820" fill="#000" stroke="none"/></g>
<path transform="translate(1658.23,403.30) scale(22.568,43.900)" d="M0,0 L1,0 L1,0.13 Q0.62,0.5 0.542,0.66 L0.542,0.955 Q0.542,1.0 0.4,1.0 Q0.253,1.0 0.253,0.945 L0.253,0.75 Q0.35,0.45 0.704,0.133 L0.27,0.133 Q0.17,0.16 0.144,0.22 L0.144,0.27 L0.0,0.27 Z" fill="#000" stroke="none"/>
<rect x="1632.0" y="423.1" width="23.3" height="4.4" rx="0" stroke="none" fill="#000"/>
<polyline points="1605.2,454.7 1678.0,454.7 1725.6,490.7" stroke-width="4" fill="none"/>
<g transform="translate(1635.00,488.30) scale(24.300,43.800)"><path d="M0.66,0.03 L0.66,0.95" stroke-width="5.5" vector-effect="non-scaling-stroke" stroke-linecap="butt"/><path d="M0.66,0.03 L0.05,0.675" stroke-width="3.2" vector-effect="non-scaling-stroke" stroke-linecap="butt"/><path d="M0.04,0.675 L0.98,0.675" stroke-width="3.5" vector-effect="non-scaling-stroke" stroke-linecap="butt"/><path d="M0.36,0.955 L0.94,0.955" stroke-width="3.8" vector-effect="non-scaling-stroke" stroke-linecap="butt"/></g>
<polyline points="1631.3,537.7 1663.0,537.7 1691.2,591.1" stroke-width="4" fill="none"/>
<g transform="translate(1663.50,705.50) scale(23.500,45.300)"><path d="M0.66,0.03 L0.66,0.95" stroke-width="5.5" vector-effect="non-scaling-stroke" stroke-linecap="butt"/><path d="M0.66,0.03 L0.05,0.675" stroke-width="3.2" vector-effect="non-scaling-stroke" stroke-linecap="butt"/><path d="M0.04,0.675 L0.98,0.675" stroke-width="3.5" vector-effect="non-scaling-stroke" stroke-linecap="butt"/><path d="M0.36,0.955 L0.94,0.955" stroke-width="3.8" vector-effect="non-scaling-stroke" stroke-linecap="butt"/></g>
<polyline points="1661.9,756.6 1693.8,756.6 1757.5,627.6" stroke-width="4" fill="none"/>
<line x1="1896.0" y1="601.0" x2="1913.0" y2="601.0" stroke-width="4"/>
</svg></body></html>
